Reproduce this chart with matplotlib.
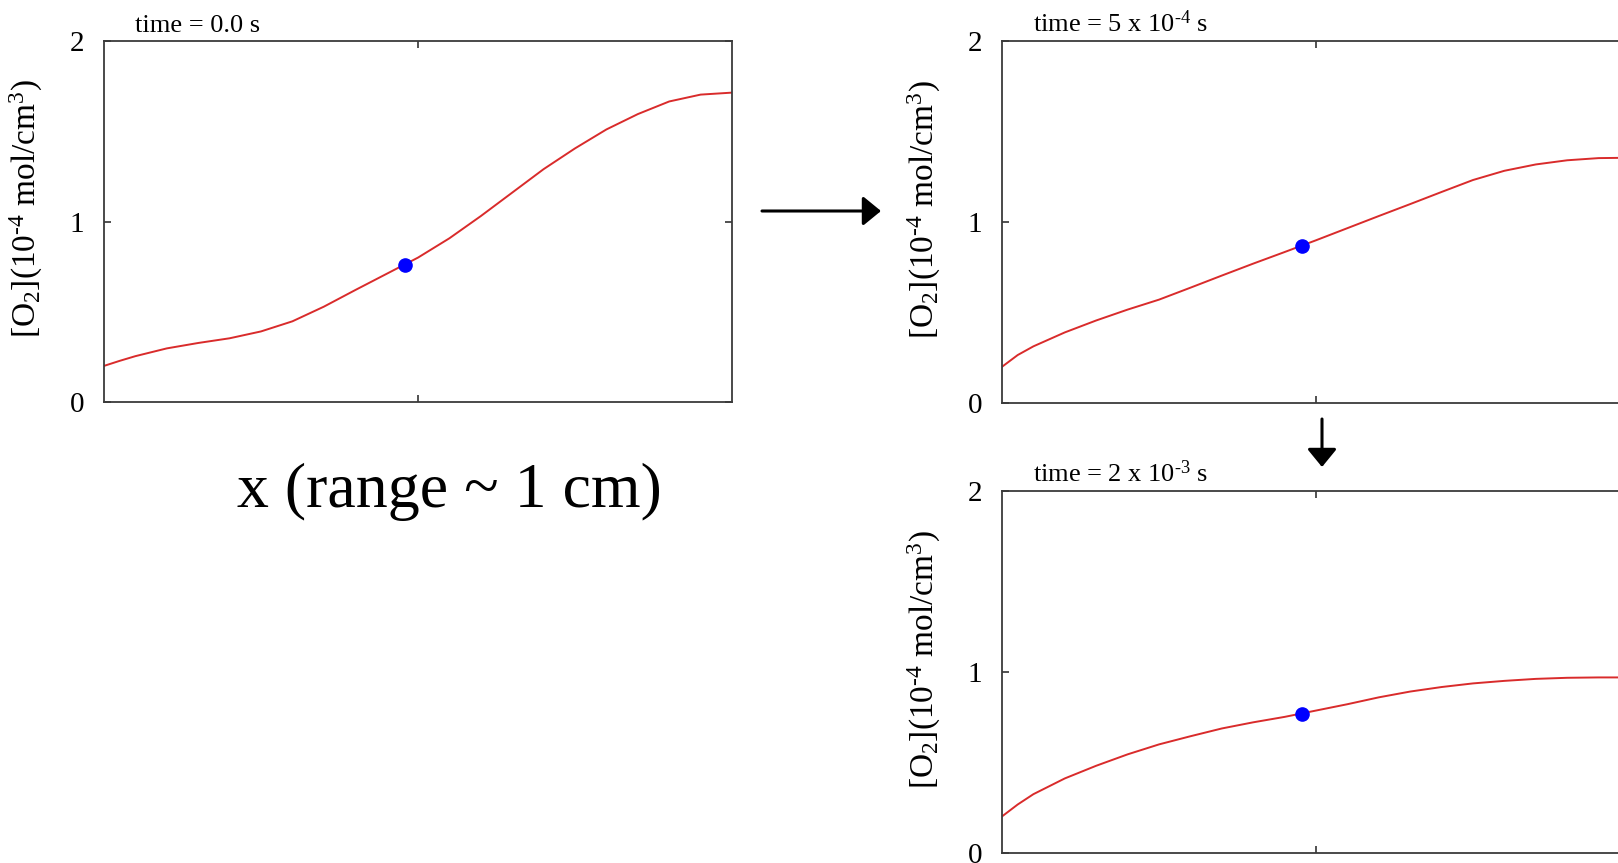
import numpy as np
import matplotlib
matplotlib.use("Agg")
from matplotlib import pyplot as plt
from matplotlib.patches import FancyArrowPatch

# x position along the sample (0..1 ~ 1 cm)
x = [0.0, 0.025, 0.05, 0.1, 0.15, 0.2, 0.25, 0.3, 0.35, 0.4, 0.45, 0.5,
     0.55, 0.6, 0.65, 0.7, 0.75, 0.8, 0.85, 0.9, 0.95, 1.0]
# [O2] profiles at the three times
o2_t0 = [0.20, 0.228, 0.254, 0.297, 0.327, 0.353, 0.391, 0.447, 0.528, 0.62, 0.71, 0.80,
         0.907, 1.03, 1.16, 1.29, 1.405, 1.51, 1.595, 1.665, 1.703, 1.714]
o2_t1 = [0.20, 0.265, 0.313, 0.39, 0.456, 0.516, 0.571, 0.637, 0.704, 0.77, 0.834, 0.899,
         0.966, 1.033, 1.099, 1.166, 1.232, 1.283, 1.318, 1.341, 1.353, 1.355]
o2_t2 = [0.202, 0.268, 0.325, 0.412, 0.482, 0.545, 0.60, 0.645, 0.688, 0.722, 0.752, 0.787,
         0.822, 0.86, 0.892, 0.917, 0.937, 0.951, 0.962, 0.968, 0.97, 0.97]
# probe point
dot_x = [0.479, 0.477, 0.478]
dot_y = [0.76, 0.867, 0.77]
titles = ["time = 0.0 s", r"time = 5 x 10$^{\text{-}4}$ s", r"time = 2 x 10$^{\text{-}3}$ s"]
ylab = r"[O$_2$](10$^{\text{-}4}$ mol/cm$^3$)"

plt.rcParams['font.family'] = ['Liberation Serif', 'DejaVu Serif']
plt.rcParams['mathtext.fontset'] = 'custom'
plt.rcParams['mathtext.rm'] = 'Liberation Serif'
plt.rcParams['mathtext.it'] = 'Liberation Serif:italic'

W, H = 1618, 863
fig = plt.figure(figsize=(W / 100, H / 100), dpi=100)

# axes boxes in pixels (left, top, width, height)
boxes = [(104, 41, 628, 361), (1002, 41, 628, 362), (1002, 491, 628, 362)]
profiles = [o2_t0, o2_t1, o2_t2]

for i in range(3):
    l, t, w, h = boxes[i]
    ax = fig.add_axes([l / W, 1 - (t + h) / H, w / W, h / H])
    ax.plot(x, profiles[i], color='#d92b2b', lw=1.4)
    ax.plot(dot_x[i], dot_y[i], 'o', color='#0000ff', ms=9.5)
    ax.set_xlim(0, 1)
    ax.set_ylim(0, 2)
    ax.set_xticks([0.5])
    ax.set_xticklabels([])
    ax.set_yticks([0, 1, 2])
    ax.set_yticklabels(['0', '1', '2'])
    ax.tick_params(direction='in', top=True, right=True, length=5, width=1.2,
                   color='#333333', labelsize=21, pad=14)
    for s in ax.spines.values():
        s.set_color('#3a3a3a')
        s.set_linewidth(1.3)
    ax.set_ylabel(ylab, fontsize=24)
    ax.yaxis.set_label_coords(-0.094, 0.535)
    ax.text(0.05, 1.025, titles[i], transform=ax.transAxes, fontsize=19, va='baseline')

fig.text(449 / W, 1 - 492 / H, "x (range ~ 1 cm)", fontsize=46, ha='center', va='center')

# arrows between panels
for p0, p1 in [((762, 211), (881, 211)), ((1322, 419), (1322, 467))]:
    arr = FancyArrowPatch((p0[0] / W, 1 - p0[1] / H), (p1[0] / W, 1 - p1[1] / H),
                          transform=fig.transFigure, arrowstyle='-|>,head_length=0.55,head_width=0.45',
                          mutation_scale=20, lw=2.2, color='black', shrinkA=0, shrinkB=0)
    fig.add_artist(arr)

fig.savefig('out.png', dpi=100)
